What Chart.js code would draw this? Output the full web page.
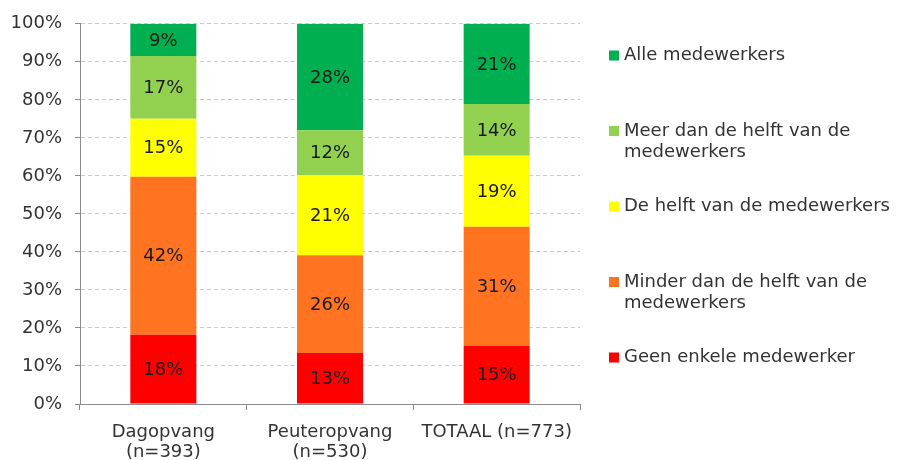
<!DOCTYPE html>
<html>
<head>
<meta charset="utf-8">
<script src="https://cdn.jsdelivr.net/npm/chart.js@4"></script>
<style>
  html, body { margin: 0; padding: 0; background: #fff; }
</style>
</head>
<body>
<canvas id="grafiek" width="897" height="460"></canvas>
<script>
// ---------- DATA ----------
const categorieen = [["Dagopvang", "(n=393)"], ["Peuteropvang", "(n=530)"], "TOTAAL (n=773)"];

const geenEnkele = [18.2, 13.4, 15.3];
const minderDanHelft = [41.6, 25.7, 31.3];
const deHelft = [15.2, 21.1, 18.7];
const meerDanHelft = [16.5, 11.8, 13.6];
const alleMedewerkers = [8.5, 28.0, 21.1];

const reeksNamen = [
  ["Geen enkele medewerker"],
  ["Minder dan de helft van de", "medewerkers"],
  ["De helft van de medewerkers"],
  ["Meer dan de helft van de", "medewerkers"],
  ["Alle medewerkers"]
];

const yTicks = [0, 10, 20, 30, 40, 50, 60, 70, 80, 90, 100];

// ---------- STIJL ----------
const kleuren = ["#FF0000", "#FF7321", "#FFFF00", "#92D050", "#00B050"];
const lettertype = '"DejaVu Sans", Verdana, sans-serif';
const tekstKleur = "#333333";
const asKleur = "#8c8c8c";
const grootte = 18;

// ---------- LABELS IN DE BALKEN ----------
const segmentLabels = {
  id: "segmentLabels",
  afterDatasetsDraw(chart) {
    const ctx = chart.ctx;
    ctx.save();
    ctx.font = grootte + "px " + lettertype;
    ctx.fillStyle = "#1a1a1a";
    ctx.textAlign = "center";
    ctx.textBaseline = "middle";
    chart.data.datasets.forEach((ds, i) => {
      chart.getDatasetMeta(i).data.forEach((bar, j) => {
        const p = bar.getProps(["x", "y", "base"], true);
        ctx.fillText(Math.round(ds.data[j]) + "%", p.x, (p.y + p.base) / 2 + 1);
      });
    });
    ctx.restore();
  }
};

// ---------- LEGENDA RECHTS ----------
const legendaRechts = {
  id: "legendaRechts",
  afterDraw(chart) {
    const ctx = chart.ctx;
    ctx.save();
    ctx.font = grootte + "px " + lettertype;
    ctx.textBaseline = "middle";
    ctx.textAlign = "left";
    const n = chart.data.datasets.length;
    for (let k = 0; k < n; k++) {
      const i = n - 1 - k; // bovenste item = laatste reeks
      const y = 55.5 + k * 75.5;
      ctx.fillStyle = chart.data.datasets[i].backgroundColor;
      ctx.fillRect(609, y - 5, 10, 10);
      ctx.fillStyle = tekstKleur;
      reeksNamen[i].forEach((regel, r) => {
        ctx.fillText(regel, 624, y + r * 21.7);
      });
    }
    ctx.restore();
  }
};

// ---------- GRAFIEK ----------
const reeksen = [geenEnkele, minderDanHelft, deHelft, meerDanHelft, alleMedewerkers];

const grafiek = new Chart(document.getElementById("grafiek"), {
  type: "bar",
  data: {
    labels: categorieen,
    datasets: reeksen.map((waarden, i) => ({
      label: reeksNamen[i].join(" "),
      data: waarden,
      backgroundColor: kleuren[i],
      borderWidth: 0,
      barPercentage: 0.396,
      categoryPercentage: 1
    }))
  },
  options: {
    responsive: false,
    animation: false,
    devicePixelRatio: 1,
    layout: { padding: { top: 14, right: 317, left: 0, bottom: 0 } },
    plugins: {
      legend: { display: false },
      tooltip: { enabled: false }
    },
    scales: {
      x: {
        stacked: true,
        grid: { offset: true, drawOnChartArea: false, tickLength: 6, color: asKleur },
        border: { color: asKleur },
        ticks: { font: { family: lettertype, size: grootte, lineHeight: 1.12 }, color: tekstKleur, padding: 12 },
        afterFit(scale) { scale.height = 56; }
      },
      y: {
        stacked: true,
        min: 0,
        max: 100,
        afterBuildTicks(scale) { scale.ticks = yTicks.map(v => ({ value: v })); },
        ticks: {
          font: { family: lettertype, size: grootte },
          color: tekstKleur,
          padding: 13,
          callback: v => v + "%"
        },
        grid: { color: "#cccccc", tickColor: asKleur, tickLength: 5 },
        border: { color: asKleur, dash: [4, 3] },
        afterFit(scale) { scale.width = 80; }
      }
    }
  },
  plugins: [segmentLabels, legendaRechts]
});
</script>
</body>
</html>
